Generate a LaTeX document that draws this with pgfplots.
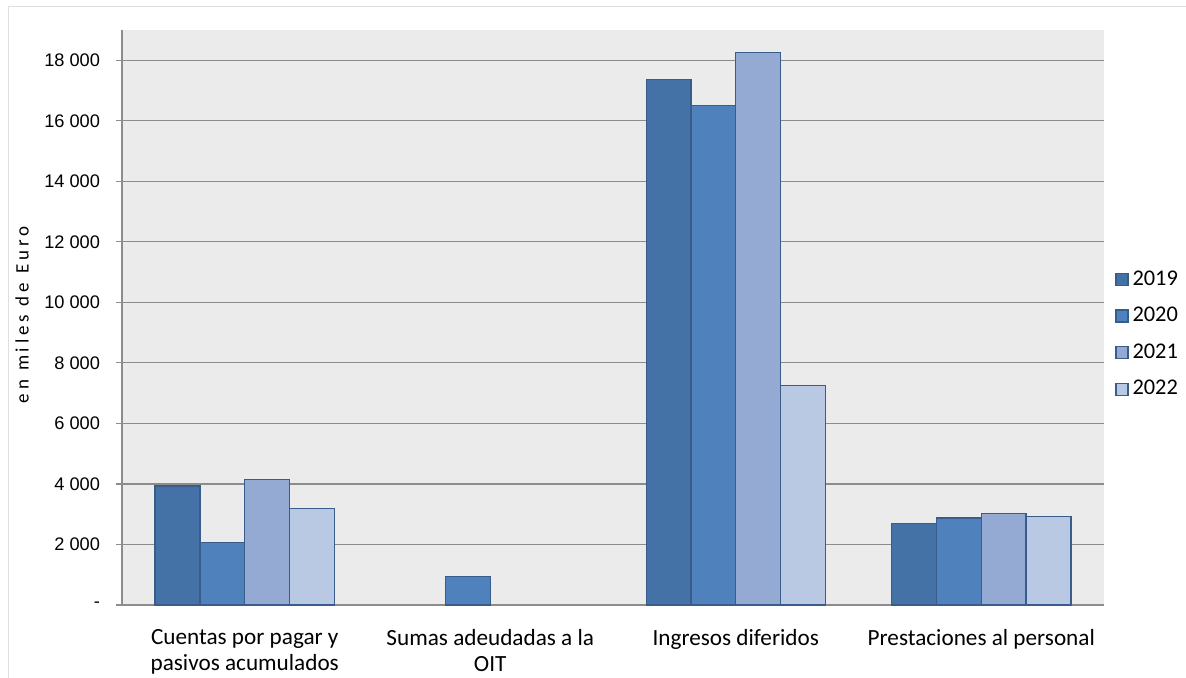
\documentclass[border=0pt]{standalone}
\usepackage{fontspec}
\setmainfont{Carlito}
\newfontfamily\arial{Liberation Sans}
\newfontfamily\spaced[LetterSpace=20]{Carlito}
\usepackage{pgfplots}
\pgfplotsset{compat=1.18}

\definecolor{cA}{HTML}{4472A6}
\definecolor{cB}{HTML}{4F81BD}
\definecolor{cC}{HTML}{95AAD3}
\definecolor{cD}{HTML}{B9C9E3}
\definecolor{edge}{HTML}{385D8A}
\definecolor{bg}{HTML}{EBEBEB}
\definecolor{gridc}{HTML}{8C8C8C}

\begin{document}
\begin{tikzpicture}
\useasboundingbox (-61pt,-36.5pt) rectangle (532pt,302.5pt);
\begin{axis}[
    scale only axis,
    width=491pt, height=287.5pt,
    ybar=0pt,
    bar width=0.1826,
    xmin=-0.5, xmax=3.5,
    ymin=0, ymax=19000,
    scaled y ticks=false,
    axis background/.style={fill=bg},
    axis x line*=bottom, axis y line*=left,
    axis line style={gridc, line width=0.6pt},
    x axis line style={-}, y axis line style={-},
    xtick={0,1,2,3},
    xticklabels={{Cuentas por pagar y\\pasivos acumulados},{Sumas adeudadas a la\\OIT},{Ingresos diferidos},{Prestaciones al personal}},
    xticklabel style={align=center, font=\fontsize{11.6}{13.2}\selectfont, yshift=-5.5pt},
    major x tick style={draw=none},
    extra x ticks={-0.5,0.5,1.5,2.5,3.5},
    extra x tick labels={},
    extra x tick style={major tick length=3pt, tick style={gridc, line width=0.6pt}, grid=none},
    ytick={0,2000,4000,6000,8000,10000,12000,14000,16000,18000},
    yticklabels={-,2 000,4 000,6 000,8 000,10 000,12 000,14 000,16 000,18 000},
    yticklabel style={font=\arial\fontsize{9.1}{10}\selectfont, xshift=-4.5pt},
    tick align=outside,
    major tick length=3pt,
    y tick style={gridc, line width=0.6pt},
    ymajorgrids=true,
    grid style={gridc, line width=0.6pt},
    legend style={at={(1.005,0.4707)}, anchor=west, draw=none, fill=none,
        font=\fontsize{11.2}{13}\selectfont, row sep=5.5pt},
    legend cell align=left,
    legend image code/.code={\draw[#1] (0pt,-3pt) rectangle (6pt,3pt);},
    every axis plot/.append style={draw=edge, line width=0.6pt},
]
\addplot[fill=cA, draw=edge] coordinates {(0,3930) (2,17355) (3,2690)};
\addplot[fill=cB, draw=edge] coordinates {(0,2060) (1,936) (2,16496) (3,2876)};
\addplot[fill=cC, draw=edge] coordinates {(0,4155) (2,18258) (3,3030)};
\addplot[fill=cD, draw=edge] coordinates {(0,3196) (2,7240) (3,2920)};
\legend{2019,2020,2021,2022}
\end{axis}
\node[rotate=90, font=\spaced\fontsize{9.5}{10}\selectfont] at (-50pt,145pt) {en\hspace{4.5pt}miles\hspace{4.5pt}de\hspace{4.5pt}Euro};
\draw[gray!25, line width=0.5pt] (-56.5pt,-36.5pt) -- (-56.5pt,299pt) -- (532pt,299pt);
\end{tikzpicture}
\end{document}
